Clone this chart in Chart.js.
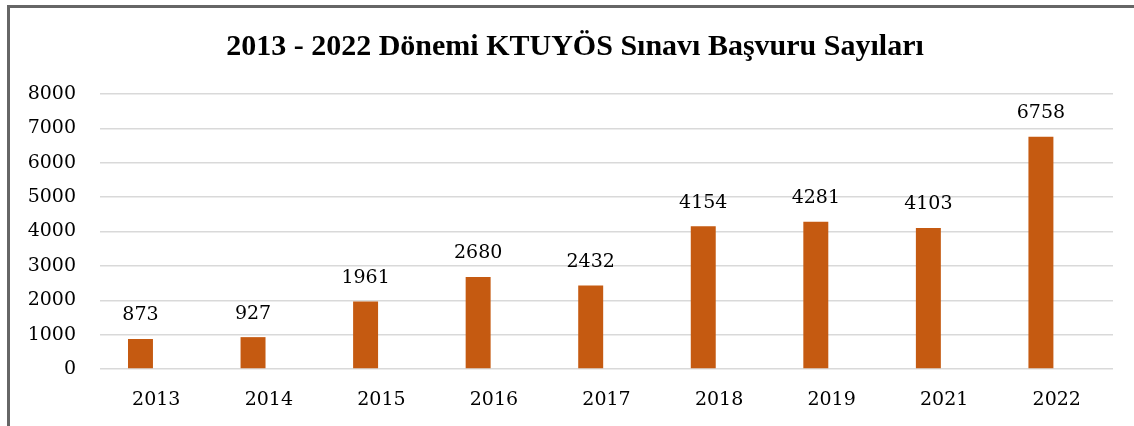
<!DOCTYPE html>
<html>
<head>
<meta charset="utf-8">
<script src="https://cdn.jsdelivr.net/npm/chart.js@4"></script>
<style>
  html, body { margin: 0; padding: 0; background: #fff; }
  #wrap { position: relative; width: 1134px; height: 426px; }
  #frame {
    position: absolute; left: 7px; top: 5px; width: 1140px; height: 430px;
    border-left: 3px solid #666; border-top: 3px solid #666;
    pointer-events: none;
  }
</style>
</head>
<body>
<div id="wrap">
  <canvas id="barChart" width="1134" height="426"></canvas>
  <div id="frame"></div>
</div>
<script>
const years = ["2013", "2014", "2015", "2016", "2017", "2018", "2019", "2021", "2022"];
const applications = [873, 927, 1961, 2680, 2432, 4154, 4281, 4103, 6758];
const emptySeries = [null, null, null, null, null, null, null, null, null];
const yTicks = [0, 1000, 2000, 3000, 4000, 5000, 6000, 7000, 8000];

const serif = "'DejaVu Serif', 'Liberation Serif', serif";

// draws the value above each bar (no datalabels plugin offline)
const valueLabels = {
  id: "valueLabels",
  afterLayout(chart) {
    // let the y tick labels spill into the left padding instead of being clipped
    chart.scales.y.left = 0;
  },
  afterDatasetsDraw(chart) {
    const ctx = chart.ctx;
    const meta = chart.getDatasetMeta(0);
    ctx.save();
    ctx.font = "19px " + serif;
    ctx.fillStyle = "#000";
    ctx.textAlign = "center";
    ctx.textBaseline = "bottom";
    meta.data.forEach((bar, i) => {
      ctx.fillText(String(applications[i]), bar.x, bar.y - 14);
    });
    ctx.restore();
  },
};

new Chart(document.getElementById("barChart").getContext("2d"), {
  type: "bar",
  data: {
    labels: years,
    datasets: [
      {
        label: "Başvuru",
        data: applications,
        backgroundColor: "#C55A11",
        borderWidth: 0,
        categoryPercentage: 0.5615,
        barPercentage: 0.79,
      },
      {
        label: "",
        data: emptySeries,
        backgroundColor: "#A5A5A5",
        categoryPercentage: 0.5615,
        barPercentage: 0.79,
      },
    ],
  },
  options: {
    responsive: false,
    animation: false,
    layout: { padding: { left: 37, right: 21, top: 0, bottom: 14 } },
    plugins: {
      legend: { display: false },
      tooltip: { enabled: false },
      title: {
        display: true,
        text: "2013 - 2022 Dönemi KTUYÖS Sınavı Başvuru Sayıları",
        color: "#000",
        font: { family: "'Liberation Serif', serif", size: 30, weight: "bold" },
        padding: { top: 29, bottom: 29 },
      },
    },
    scales: {
      x: {
        afterFit(scale) { scale.height = 43; },
        grid: { display: false, drawTicks: false },
        border: { display: false },
        ticks: {
          color: "#000",
          padding: 20,
          font: { family: serif, size: 19 },
          maxRotation: 0,
        },
      },
      y: {
        min: 0,
        max: 8000,
        afterFit(scale) { scale.width = 63; },
        afterBuildTicks(scale) { scale.ticks = yTicks.map(v => ({ value: v })); },
        grid: { color: "#d9d9d9", lineWidth: 1.5, drawTicks: false },
        border: { display: false },
        ticks: {
          color: "#000",
          padding: 24,
          font: { family: serif, size: 19 },
          callback: (v) => String(v),
        },
      },
    },
  },
  plugins: [valueLabels],
});
</script>
</body>
</html>
